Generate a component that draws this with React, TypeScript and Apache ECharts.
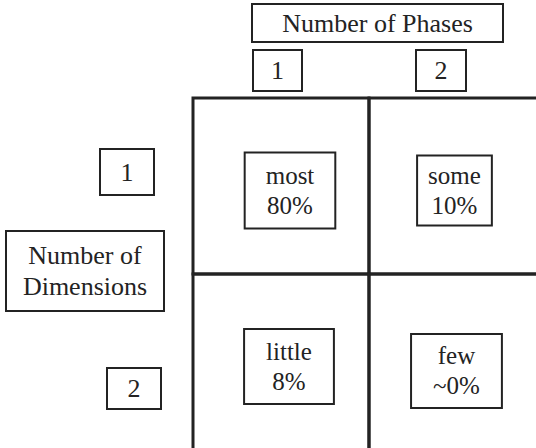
import React, { useEffect, useRef } from "react";
import * as echarts from "echarts";

// ---- data ----
const phases = ["1", "2"];
const dimensions = ["1", "2"];
const phaseTitle = "Number of Phases";
const dimensionTitle = ["Number of", "Dimensions"];
const cellPhase = [0, 1, 0, 1];
const cellDimension = [0, 0, 1, 1];
const cellWords = ["most", "some", "little", "few"];
const cellShares = ["80%", "10%", "8%", "~0%"];

// ---- layout (not data) ----
const INK = "#232323";
const FAMILY = "Liberation Serif";
const phaseBoxes = [
  { cx: 277.5, cy: 70.5, w: 49, h: 41 },
  { cx: 441, cy: 70.5, w: 50, h: 41 },
];
const dimBoxes = [
  { cx: 127, cy: 172, w: 54, h: 46 },
  { cx: 134, cy: 388.5, w: 54, h: 41 },
];
// hand-drawn inner boxes: offset from cell centre and padding
const cellBoxLayout = [
  { dx: 9, dy: 4.5, px: 20, py: 7 },
  { dx: -2.5, dy: 4.5, px: 10, py: 4 },
  { dx: 8, dy: 4.5, px: 21, py: 6.5 },
  { dx: -0.5, dy: 9, px: 21, py: 6 },
];

function boxedText(text: string, cx: number, cy: number, w: number, h: number, lineHeight = 30) {
  return {
    type: "group",
    children: [
      {
        type: "rect",
        shape: { x: cx - w / 2, y: cy - h / 2, width: w, height: h },
        style: { fill: "#fff", stroke: INK, lineWidth: 2 },
      },
      {
        type: "text",
        x: cx,
        y: cy,
        style: {
          text,
          fontFamily: FAMILY,
          fontSize: 26,
          fill: INK,
          align: "center",
          verticalAlign: "middle",
          lineHeight,
        },
      },
    ],
  };
}

export default function App() {
  const ref = useRef<HTMLDivElement>(null);
  useEffect(() => {
    if (!ref.current) return;
    const chart = echarts.init(ref.current, null, { renderer: "svg" });
    const data = cellWords.map((w, i) => [cellPhase[i], cellDimension[i], w, cellShares[i]]);
    const graphics: any[] = [
      boxedText(phaseTitle, 377.5, 23, 251, 38),
      boxedText(dimensionTitle.join("\n"), 85, 271, 158, 80, 31),
      ...phases.map((p, i) => boxedText(p, phaseBoxes[i].cx, phaseBoxes[i].cy, phaseBoxes[i].w, phaseBoxes[i].h)),
      ...dimensions.map((d, i) => boxedText(d, dimBoxes[i].cx, dimBoxes[i].cy, dimBoxes[i].w, dimBoxes[i].h)),
    ];
    chart.setOption({
      animation: false,
      backgroundColor: "#fff",
      // grid fills the page to its right/bottom edge; the matrix runs past it
      grid: { left: 193, top: 98, right: 0, bottom: 0 },
      xAxis: {
        type: "value",
        min: -0.5,
        max: 1.449,
        show: false,
      },
      yAxis: {
        type: "value",
        min: -0.5,
        max: 1.489,
        inverse: true,
        show: false,
      },
      graphic: graphics,
      series: [
        {
          type: "custom",
          data,
          clip: false,
          renderItem: (params: any, api: any) => {
            const x = api.value(0);
            const y = api.value(1);
            const p0 = api.coord([x - 0.5, y - 0.5]);
            const p1 = api.coord([x + 0.5, y + 0.5]);
            const cx = (p0[0] + p1[0]) / 2;
            const cy = (p0[1] + p1[1]) / 2;
            const i = params.dataIndex;
            const lay = cellBoxLayout[i];
            return {
              type: "group",
              children: [
                {
                  type: "rect",
                  shape: { x: p0[0], y: p0[1], width: p1[0] - p0[0], height: p1[1] - p0[1] },
                  style: { fill: "none", stroke: INK, lineWidth: 3 },
                },
                {
                  type: "text",
                  x: cx + lay.dx,
                  y: cy + lay.dy,
                  style: {
                    text: `${cellWords[i]}\n${cellShares[i]}`,
                    fontFamily: FAMILY,
                    fontSize: 25,
                    fill: INK,
                    align: "center",
                    verticalAlign: "middle",
                    lineHeight: 30,
                    padding: [lay.py, lay.px],
                    borderColor: INK,
                    borderWidth: 2,
                    backgroundColor: "#fff",
                  },
                },
              ],
            };
          },
        },
      ],
    });
    return () => chart.dispose();
  }, []);
  return (
    <div
      ref={ref}
      style={{ position: "fixed", left: 0, top: 0, width: 536, height: 448, background: "#fff" }}
    />
  );
}
